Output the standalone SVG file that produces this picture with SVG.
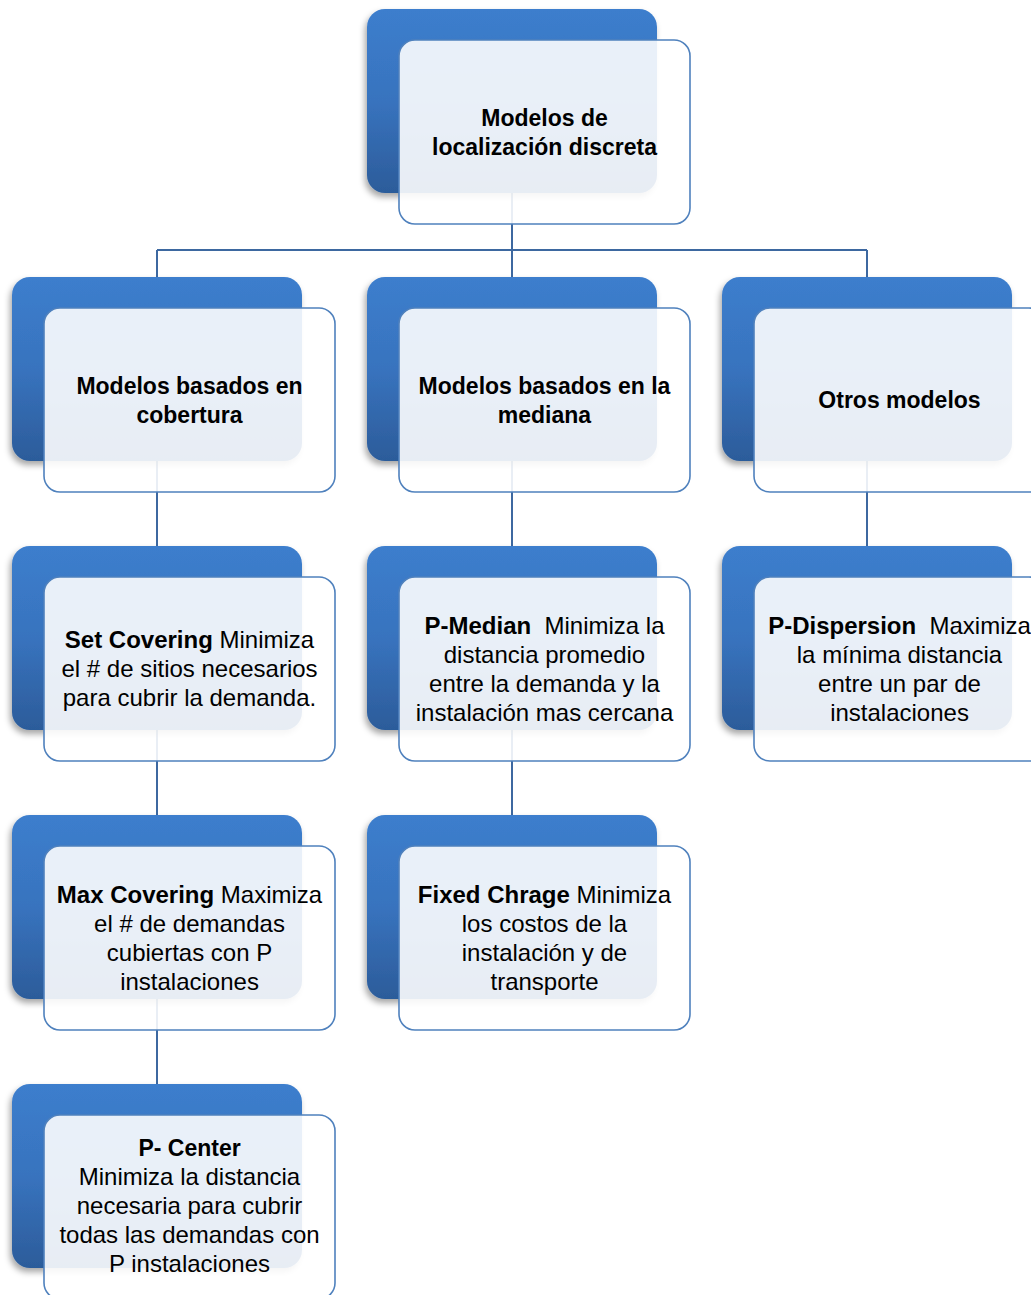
<svg xmlns="http://www.w3.org/2000/svg" width="1031" height="1295" viewBox="0 0 1031 1295">
<style>
.back{fill:url(#gb);filter:url(#sh)}
.front{fill:#ffffff;fill-opacity:0.89;stroke:#4f81bd;stroke-width:1.6}
.t{font-family:"Liberation Sans",Arial,sans-serif;font-size:24px;fill:#000;text-anchor:middle}
.b{font-weight:bold}
.h{font-size:23px}
.conn{fill:none;stroke:#3d68a0;stroke-width:2}
</style>
<defs>
<linearGradient id="gb" x1="0" y1="0" x2="0" y2="1">
<stop offset="0" stop-color="#3c7ecd"/>
<stop offset="0.5" stop-color="#3873be"/>
<stop offset="1" stop-color="#2c5c9a"/>
</linearGradient>
<filter id="sh" x="-10%" y="-10%" width="125%" height="125%">
<feDropShadow dx="-2" dy="4" stdDeviation="3" flood-color="#000" flood-opacity="0.35"/>
</filter>
</defs>
<g id="connectors">
<path class="conn" d="M512 193V250M157 250H867M157 250V277M512 250V277M867 250V277"/>
<path class="conn" d="M157 461V546M512 461V546M867 461V546"/>
<path class="conn" d="M157 730V815M512 730V815"/>
<path class="conn" d="M157 999V1084"/>
</g>
<g id="n-root">
<rect class="back" x="367" y="9" width="290" height="184" rx="18"/>
<rect class="front" x="399" y="40" width="291" height="184" rx="16"/>
<text class="t b h" x="544.5" y="125.5">Modelos de</text>
<text class="t b h" x="544.5" y="154.5">localización discreta</text>
</g>
<g id="n-cobertura">
<rect class="back" x="12" y="277" width="290" height="184" rx="18"/>
<rect class="front" x="44" y="308" width="291" height="184" rx="16"/>
<text class="t b h" x="189.5" y="393.5">Modelos basados en</text>
<text class="t b h" x="189.5" y="422.5">cobertura</text>
</g>
<g id="n-mediana">
<rect class="back" x="367" y="277" width="290" height="184" rx="18"/>
<rect class="front" x="399" y="308" width="291" height="184" rx="16"/>
<text class="t b h" x="544.5" y="393.5">Modelos basados en la</text>
<text class="t b h" x="544.5" y="422.5">mediana</text>
</g>
<g id="n-otros">
<rect class="back" x="722" y="277" width="290" height="184" rx="18"/>
<rect class="front" x="754" y="308" width="291" height="184" rx="16"/>
<text class="t b h" x="899.5" y="408">Otros modelos</text>
</g>
<g id="n-setcovering">
<rect class="back" x="12" y="546" width="290" height="184" rx="18"/>
<rect class="front" x="44" y="577" width="291" height="184" rx="16"/>
<text class="t" x="189.5" y="648"><tspan class="b">Set Covering</tspan> Minimiza</text>
<text class="t" x="189.5" y="677">el # de sitios necesarios</text>
<text class="t" x="189.5" y="706">para cubrir la demanda.</text>
</g>
<g id="n-pmedian">
<rect class="back" x="367" y="546" width="290" height="184" rx="18"/>
<rect class="front" x="399" y="577" width="291" height="184" rx="16"/>
<text class="t" x="544.5" y="633.5"><tspan class="b">P-Median</tspan>&#160; Minimiza la</text>
<text class="t" x="544.5" y="662.5">distancia promedio</text>
<text class="t" x="544.5" y="691.5">entre la demanda y la</text>
<text class="t" x="544.5" y="720.5">instalación mas cercana</text>
</g>
<g id="n-pdispersion">
<rect class="back" x="722" y="546" width="290" height="184" rx="18"/>
<rect class="front" x="754" y="577" width="291" height="184" rx="16"/>
<text class="t" x="899.5" y="633.5"><tspan class="b">P-Dispersion</tspan>&#160; Maximiza</text>
<text class="t" x="899.5" y="662.5">la mínima distancia</text>
<text class="t" x="899.5" y="691.5">entre un par de</text>
<text class="t" x="899.5" y="720.5">instalaciones</text>
</g>
<g id="n-maxcovering">
<rect class="back" x="12" y="815" width="290" height="184" rx="18"/>
<rect class="front" x="44" y="846" width="291" height="184" rx="16"/>
<text class="t" x="189.5" y="902.5"><tspan class="b">Max Covering</tspan> Maximiza</text>
<text class="t" x="189.5" y="931.5">el # de demandas</text>
<text class="t" x="189.5" y="960.5">cubiertas con P</text>
<text class="t" x="189.5" y="989.5">instalaciones</text>
</g>
<g id="n-fixedcharge">
<rect class="back" x="367" y="815" width="290" height="184" rx="18"/>
<rect class="front" x="399" y="846" width="291" height="184" rx="16"/>
<text class="t" x="544.5" y="902.5"><tspan class="b">Fixed Chrage</tspan> Minimiza</text>
<text class="t" x="544.5" y="931.5">los costos de la</text>
<text class="t" x="544.5" y="960.5">instalación y de</text>
<text class="t" x="544.5" y="989.5">transporte</text>
</g>
<g id="n-pcenter">
<rect class="back" x="12" y="1084" width="290" height="184" rx="18"/>
<rect class="front" x="44" y="1115" width="291" height="184" rx="16"/>
<text class="t b h" x="189.5" y="1156">P- Center</text>
<text class="t" x="189.5" y="1185">Minimiza la distancia</text>
<text class="t" x="189.5" y="1214">necesaria para cubrir</text>
<text class="t" x="189.5" y="1243">todas las demandas con</text>
<text class="t" x="189.5" y="1272">P instalaciones</text>
</g>
</svg>
